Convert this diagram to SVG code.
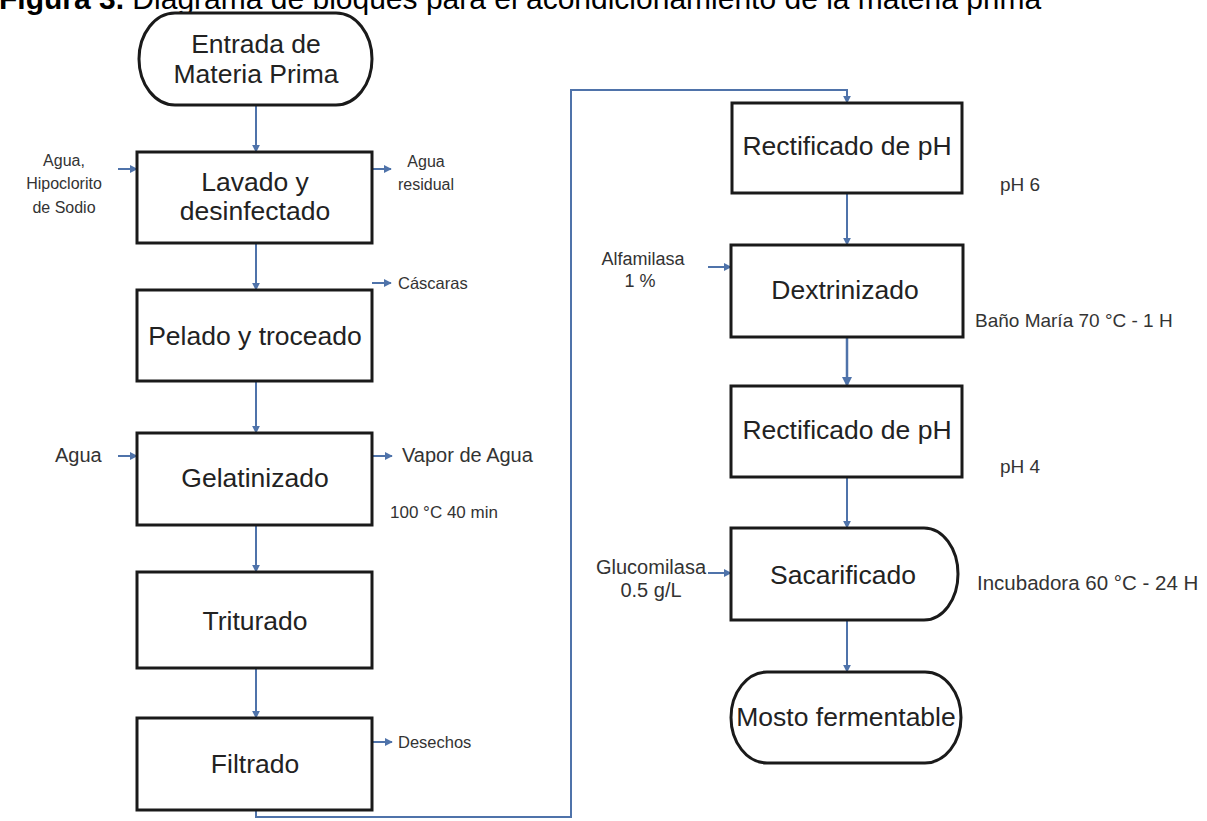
<svg xmlns="http://www.w3.org/2000/svg" width="1207" height="821" viewBox="0 0 1207 821">
<style>
.box{fill:#fff;stroke:#1a1a1a;stroke-width:3}
.t{font-family:"Liberation Sans",Arial,sans-serif;font-size:26.5px;fill:#222;text-anchor:middle}
.s{font-family:"Liberation Sans",Arial,sans-serif;font-size:20px;fill:#333}
.s16{font-size:16px}
.s15{font-size:16.5px}
.s17{font-size:17px}
.s18{font-size:18px}
.s19{font-size:19px}
.m{text-anchor:middle}
.c{fill:none;stroke:#4f73aa;stroke-width:2}
.title{font-family:"Liberation Sans",Arial,sans-serif;font-size:30px;fill:#000}
</style>
<defs>
<marker id="ah" viewBox="0 0 10 10" refX="9" refY="5" markerWidth="4" markerHeight="4" orient="auto" markerUnits="strokeWidth">
<path d="M0,0 L10,5 L0,10 z" fill="#4f73aa"/>
</marker>
</defs>
<rect width="1207" height="821" fill="#fff"/>
<text class="title" x="-1" y="9"><tspan font-weight="bold">Figura 3.</tspan> Diagrama de bloques para el acondicionamiento de la materia prima</text>

<g id="connectors">
<path class="c" d="M256,105 V152" marker-end="url(#ah)"/>
<path class="c" d="M256,243 V290" marker-end="url(#ah)"/>
<path class="c" d="M256,381 V433" marker-end="url(#ah)"/>
<path class="c" d="M256,525 V572" marker-end="url(#ah)"/>
<path class="c" d="M256,668 V718" marker-end="url(#ah)"/>
<path class="c" d="M256,810 V817 H571 V90 H847 V103" marker-end="url(#ah)"/>
<path class="c" d="M847,193 V245" marker-end="url(#ah)"/>
<path class="c" d="M847,337 V386" marker-end="url(#ah)" style="stroke-width:2.5"/>
<path class="c" d="M847,477 V528" marker-end="url(#ah)"/>
<path class="c" d="M847,620 V672" marker-end="url(#ah)"/>
<path class="c" d="M118,169 H137" marker-end="url(#ah)"/>
<path class="c" d="M372,169 H391" marker-end="url(#ah)"/>
<path class="c" d="M372,283 H391" marker-end="url(#ah)"/>
<path class="c" d="M118,456 H137" marker-end="url(#ah)"/>
<path class="c" d="M372,456 H392" marker-end="url(#ah)"/>
<path class="c" d="M372,742 H392" marker-end="url(#ah)"/>
<path class="c" d="M708,267 H731" marker-end="url(#ah)"/>
<path class="c" d="M708,573 H731" marker-end="url(#ah)"/>
</g>

<g id="entrada">
<rect class="box" x="139" y="13" width="233" height="92" rx="36" ry="46"/>
<text class="t" x="256" y="53">Entrada de</text>
<text class="t" x="256" y="83">Materia Prima</text>
</g>
<g id="lavado">
<rect class="box" x="137" y="152" width="235" height="91"/>
<text class="t" x="255" y="191">Lavado y</text>
<text class="t" x="255" y="220">desinfectado</text>
<text class="s s16 m" x="64" y="166">Agua,</text>
<text class="s s16 m" x="64" y="189">Hipoclorito</text>
<text class="s s16 m" x="64" y="213">de Sodio</text>
<text class="s s16 m" x="426" y="167">Agua</text>
<text class="s s16 m" x="426" y="190">residual</text>
</g>
<g id="pelado">
<rect class="box" x="137" y="290" width="235" height="91"/>
<text class="t" x="255" y="345">Pelado y troceado</text>
<text class="s s15" x="398" y="289">Cáscaras</text>
</g>
<g id="gelatinizado">
<rect class="box" x="137" y="433" width="235" height="92"/>
<text class="t" x="255" y="487">Gelatinizado</text>
<text class="s" x="55" y="462">Agua</text>
<text class="s" x="402" y="462">Vapor de Agua</text>
<text class="s s17" x="390" y="518">100 °C 40 min</text>
</g>
<g id="triturado">
<rect class="box" x="137" y="572" width="235" height="96"/>
<text class="t" x="255" y="630">Triturado</text>
</g>
<g id="filtrado">
<rect class="box" x="137" y="718" width="235" height="92"/>
<text class="t" x="255" y="773">Filtrado</text>
<text class="s s15" x="398" y="748">Desechos</text>
</g>
<g id="rectificado1">
<rect class="box" x="732" y="103" width="230" height="90"/>
<text class="t" x="847" y="155">Rectificado de pH</text>
<text class="s s19" x="1000" y="191">pH 6</text>
</g>
<g id="dextrinizado">
<rect class="box" x="731" y="245" width="232" height="92"/>
<text class="t" x="845" y="299">Dextrinizado</text>
<text class="s s18 m" x="643" y="265">Alfamilasa</text>
<text class="s s18 m" x="640" y="287">1 %</text>
<text class="s s19" x="975" y="327">Baño María 70 °C - 1 H</text>
</g>
<g id="rectificado2">
<rect class="box" x="731" y="386" width="231" height="91"/>
<text class="t" x="847" y="439">Rectificado de pH</text>
<text class="s s19" x="1000" y="473">pH 4</text>
</g>
<g id="sacarificado">
<path class="box" d="M731,528 H924 A34,46 0 0 1 924,620 H731 Z"/>
<text class="t" x="843" y="584">Sacarificado</text>
<text class="s m" x="651" y="574">Glucomilasa</text>
<text class="s m" x="651" y="597">0.5 g/L</text>
<text class="s" x="977" y="590" style="font-size:20.5px">Incubadora 60 °C - 24 H</text>
</g>
<g id="mosto">
<rect class="box" x="731" y="672" width="230" height="91" rx="36" ry="45.5"/>
<text class="t" x="846" y="726">Mosto fermentable</text>
</g>
</svg>
